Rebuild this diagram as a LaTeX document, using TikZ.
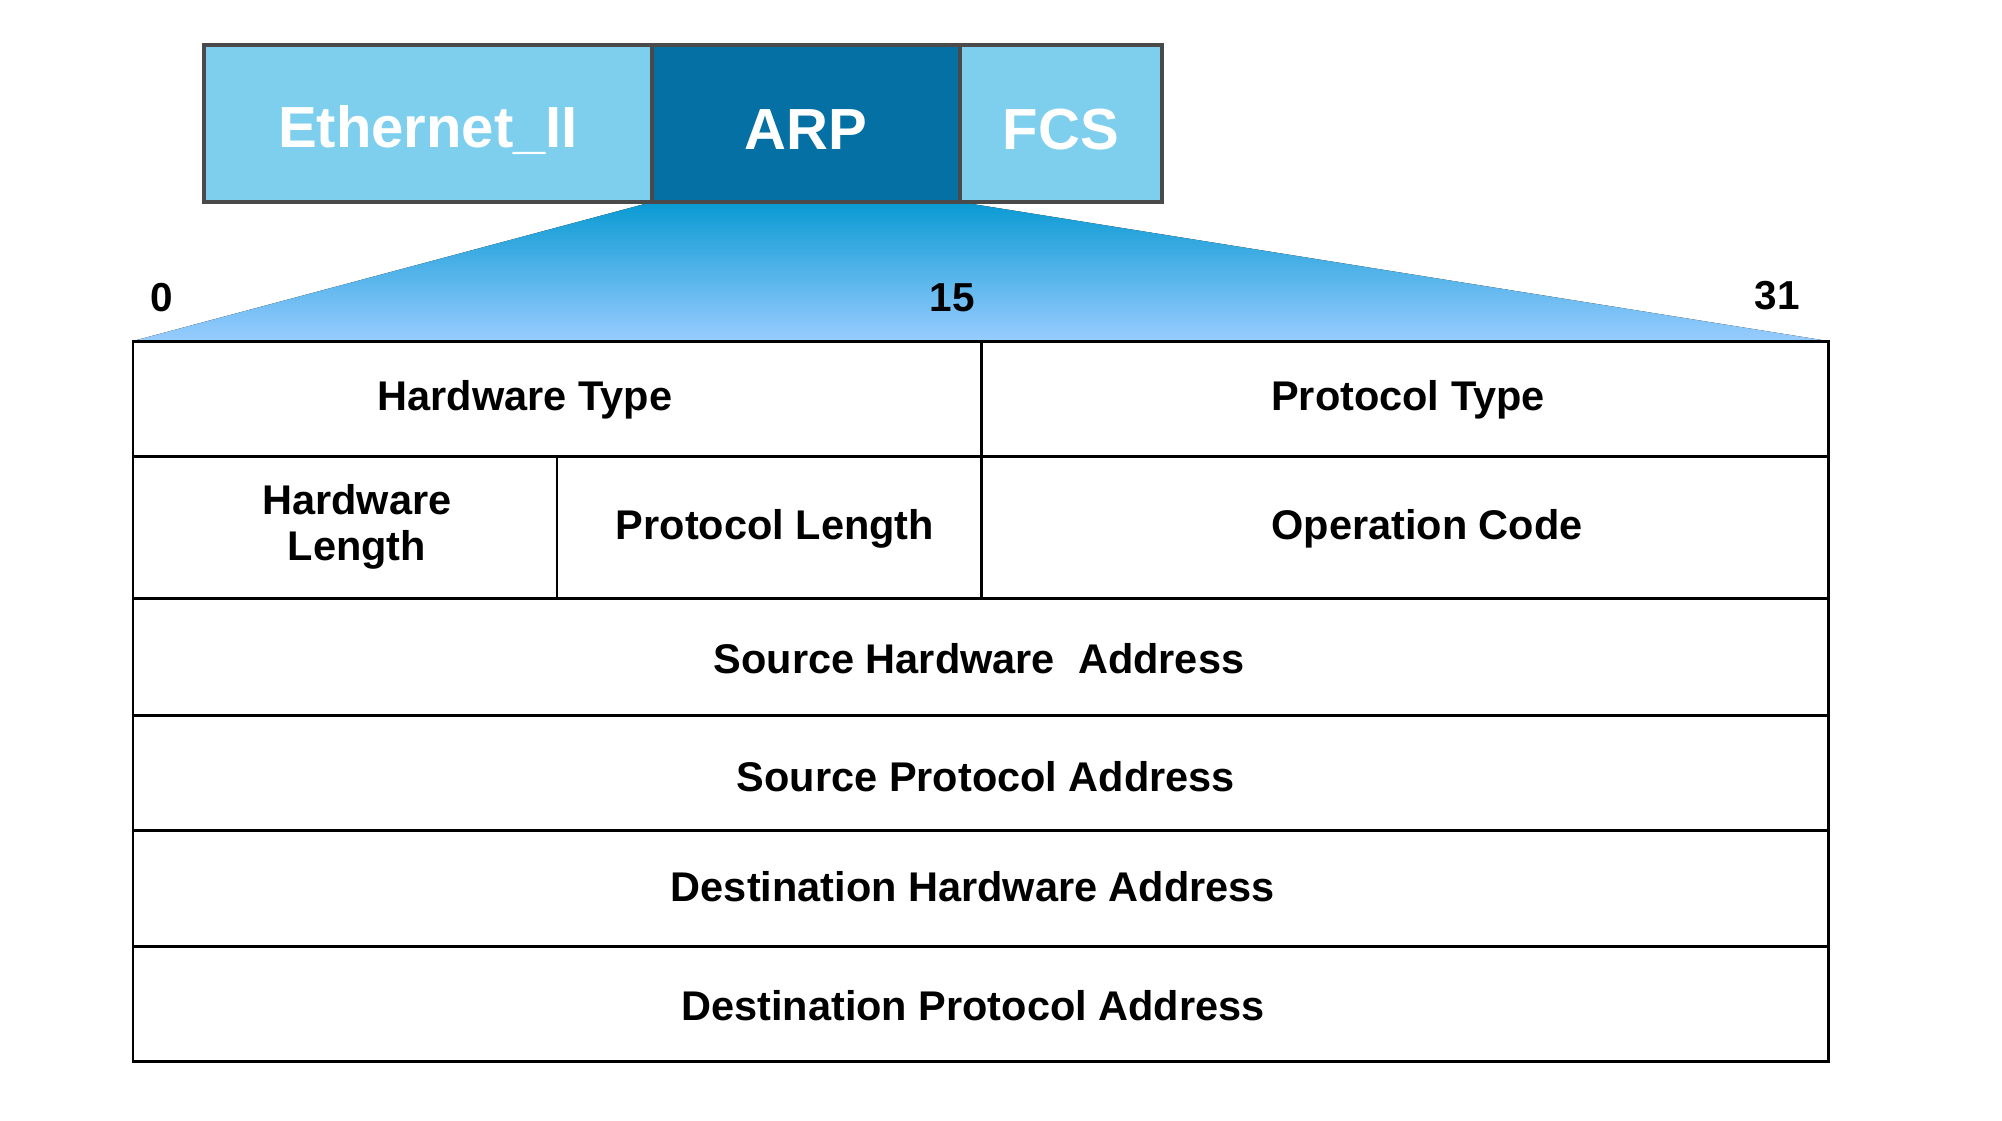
\documentclass[tikz,border=0pt]{standalone}
\usepackage{fontspec}
\setmainfont{Liberation Sans}
\definecolor{ethblue}{HTML}{7ECFEE}
\definecolor{arpblue}{HTML}{0570A4}
\definecolor{fantop}{HTML}{0A9AD3}
\definecolor{fanbot}{HTML}{99CCFF}
\definecolor{framegray}{HTML}{4A4A4A}
\begin{document}
\begin{tikzpicture}[x=0.01cm,y=-0.01cm,
    hdrbox/.style={draw=framegray,line width=1.4pt},
    hdrtext/.style={text=white,font=\fontsize{16.5}{19}\selectfont\bfseries},
    cellline/.style={line width=0.85pt},
    field/.style={font=\fontsize{11.8}{13}\selectfont\bfseries,align=center},
    bitno/.style={font=\fontsize{11.5}{13}\selectfont\bfseries}]

      \useasboundingbox (0,0) rectangle (2002,1120);

      % FAN from ARP down to the table
      \fill[top color=fantop,bottom color=fanbot]
      (652,202) -- (960,202) -- (1828,341) -- (133,341) -- cycle;

      % FRAME
      \draw[hdrbox,fill=ethblue] (204,45) rectangle (652,202);
      \draw[hdrbox,fill=arpblue] (652,45) rectangle (960,202);
      \draw[hdrbox,fill=ethblue] (960,45) rectangle (1162,202);
      \node[hdrtext] (eth) at (428,130) {Ethernet\_II};
      \node[hdrtext] (arp) at (806,130) {ARP};
      \node[hdrtext] (fcs) at (1061,130) {FCS};

      % BIT NUMBERS
      \node[bitno] (b0)  at (162,298) {0};
      \node[bitno] (b15) at (952,298) {15};
      \node[bitno] (b31) at (1777,296) {31};

      % TABLE
      \draw[cellline] (133,341) rectangle (1828,1061);
      \foreach \y in {456,598,715,830,946}
        \draw[cellline] (133,\y) -- (1828,\y);
      \draw[cellline] (981,341) -- (981,598);
      \draw[cellline] (557,456) -- (557,598);

      % FIELDS
      \node[field] (hwtype)  at (525,400) {Hardware Type};
      \node[field] (prtype)  at (1408,400) {Protocol Type};
      \node[field] (hwlen)   at (357,527) {Hardware\\Length};
      \node[field] (prlen)   at (775,529) {Protocol Length};
      \node[field] (opcode)  at (1427,529) {Operation Code};
      \node[field] (srchw)   at (979,659) {Source Hardware\ \ Address};
      \node[field] (srcpr)   at (986,777) {Source Protocol Address};
      \node[field] (dsthw)   at (973,887) {Destination Hardware Address};
      \node[field] (dstpr)   at (973,1006) {Destination Protocol Address};

\end{tikzpicture}
\end{document}
